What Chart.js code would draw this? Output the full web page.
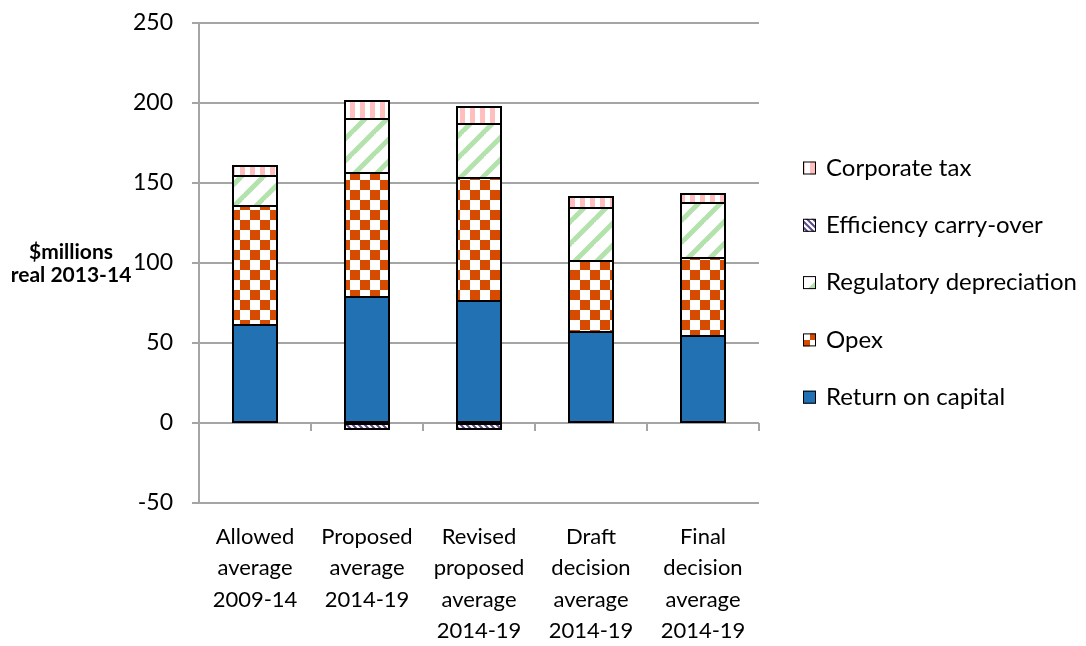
<!DOCTYPE html>
<html>
<head>
<meta charset="utf-8">
<script src="https://cdn.jsdelivr.net/npm/chart.js@4.4.1/dist/chart.umd.min.js"></script>
<style>
  html, body { margin: 0; padding: 0; background: #ffffff; }
  #wrap { width: 1086px; height: 646px; position: relative; }
</style>
</head>
<body>
<div id="wrap"><canvas id="c" width="1086" height="646"></canvas></div>
<script>
// Building-block revenue components, $ millions (real 2013-14)
const categories = [
  ["Allowed", "average", "2009-14"],
  ["Proposed", "average", "2014-19"],
  ["Revised", "proposed", "average", "2014-19"],
  ["Draft", "decision", "average", "2014-19"],
  ["Final", "decision", "average", "2014-19"]
];
const returnOnCapital        = [61, 79, 76.5, 57, 54.5];
const opex                   = [74.5, 77, 76.5, 44.5, 48.5];
const regulatoryDepreciation = [19, 34, 34, 33, 34.5];
const efficiencyCarryOver    = [null, -3.5, -3.5, null, null];
const corporateTax           = [6, 11.5, 10.5, 6.5, 5.5];

const yTickValues = [-50, 0, 50, 100, 150, 200, 250];
const yTitleLines = ["$millions", "real 2013-14"];

const FONT = "Lato, 'Open Sans', sans-serif";
const GRID = "#a5a5a5";

const canvas = document.getElementById("c");
const ctx = canvas.getContext("2d");

// Small repeating tiles used as bar fills
function tile(w, h, draw) {
  const c = document.createElement("canvas");
  c.width = w; c.height = h;
  const t = c.getContext("2d");
  t.fillStyle = "#ffffff";
  t.fillRect(0, 0, w, h);
  draw(t, w, h);
  return ctx.createPattern(c, "repeat");
}

const checker = tile(20, 20, (t) => {
  t.fillStyle = "#d64b00";
  t.fillRect(0, 0, 10, 10);
  t.fillRect(10, 10, 10, 10);
});

const greenDiagonal = tile(22, 22, (t, s) => {
  t.strokeStyle = "#b3e2ac";
  t.lineWidth = 5;
  for (const k of [0, s, 2 * s]) {
    t.beginPath();
    t.moveTo(-1, k + 1);
    t.lineTo(k + 1, -1);
    t.stroke();
  }
});

const pinkVertical = tile(10, 10, (t) => {
  t.fillStyle = "#ffbfbf";
  t.fillRect(0, 0, 5, 10);
});

const purpleDiagonal = tile(6, 6, (t, s) => {
  t.strokeStyle = "#5b4a86";
  t.lineWidth = 2;
  for (const k of [-s, 0, s]) {
    t.beginPath();
    t.moveTo(k - 1, -1);
    t.lineTo(k + s + 1, s + 1);
    t.stroke();
  }
});

// Horizontal title of the value axis, centred on the plot area
const yTitlePlugin = {
  id: "yTitle",
  afterDraw(chart) {
    const a = chart.chartArea;
    const c = chart.ctx;
    c.save();
    c.font = "bold 21px " + FONT;
    c.fillStyle = "#000";
    c.textAlign = "center";
    c.textBaseline = "middle";
    const lh = 23;
    const mid = (a.top + a.bottom) / 2;
    yTitleLines.forEach((line, i) => {
      c.fillText(line, 71, mid + (i - (yTitleLines.length - 1) / 2) * lh + 1);
    });
    c.restore();
  }
};

// Black outlines centred on each segment's edges, so stacked segments share one line
const outlinePlugin = {
  id: "segmentOutlines",
  afterDatasetsDraw(chart) {
    const c = chart.ctx;
    c.save();
    c.strokeStyle = "#000";
    c.lineWidth = 2;
    chart.data.datasets.forEach((ds, di) => {
      const meta = chart.getDatasetMeta(di);
      meta.data.forEach((bar, i) => {
        if (ds.data[i] === null || ds.data[i] === undefined) return;
        const p = bar.getProps(["x", "y", "base", "width"], true);
        const left = Math.round(p.x - p.width / 2);
        const right = Math.round(p.x + p.width / 2);
        const top = Math.round(Math.min(p.y, p.base));
        const bottom = Math.round(Math.max(p.y, p.base));
        c.strokeRect(left, top, right - left, bottom - top);
      });
    });
    c.restore();
  }
};

// Tick marks along the zero line between categories
const zeroTicksPlugin = {
  id: "zeroTicks",
  afterDatasetsDraw(chart) {
    const x = chart.scales.x, y = chart.scales.y;
    const y0 = Math.round(y.getPixelForValue(0));
    const n = categories.length;
    const c = chart.ctx;
    c.save();
    c.strokeStyle = GRID;
    c.lineWidth = 2;
    for (let i = 1; i <= n; i++) {
      const px = Math.round(x.getPixelForValue(i - 0.5));
      c.beginPath();
      c.moveTo(px, y0);
      c.lineTo(px, y0 + 8);
      c.stroke();
    }
    c.restore();
  }
};

// Legend on the right, listed top-down in reverse stacking order
const legendPlugin = {
  id: "sideLegend",
  afterDraw(chart) {
    const a = chart.chartArea;
    const c = chart.ctx;
    const sets = chart.data.datasets.slice().reverse();
    const boxX = a.right + 44;
    const startY = a.top + 145;
    const gap = 57.3;
    c.save();
    c.font = "24px " + FONT;
    c.textBaseline = "middle";
    c.textAlign = "left";
    sets.forEach((ds, i) => {
      const cy = startY + i * gap;
      c.fillStyle = ds.backgroundColor;
      c.fillRect(boxX, cy - 6.5, 13, 13);
      c.strokeStyle = "#000";
      c.lineWidth = 1;
      c.strokeRect(boxX + 0.5, cy - 6, 12, 12);
      c.fillStyle = "#000";
      c.fillText(ds.label, boxX + 23, cy);
    });
    c.restore();
  }
};

const base = { borderWidth: 0, barPercentage: 0.385, categoryPercentage: 1.0 };

new Chart(canvas, {
  type: "bar",
  data: {
    labels: categories,
    datasets: [
      Object.assign({ label: "Return on capital", data: returnOnCapital, backgroundColor: "#2271b3" }, base),
      Object.assign({ label: "Opex", data: opex, backgroundColor: checker }, base),
      Object.assign({ label: "Regulatory depreciation", data: regulatoryDepreciation, backgroundColor: greenDiagonal }, base),
      Object.assign({ label: "Efficiency carry-over", data: efficiencyCarryOver, backgroundColor: purpleDiagonal }, base),
      Object.assign({ label: "Corporate tax", data: corporateTax, backgroundColor: pinkVertical }, base)
    ]
  },
  options: {
    responsive: false,
    animation: false,
    devicePixelRatio: 1,
    layout: { padding: { top: 23, right: 327, left: 0, bottom: 0 } },
    plugins: { legend: { display: false }, tooltip: { enabled: false } },
    scales: {
      x: {
        stacked: true,
        offset: true,
        grid: { display: false, drawTicks: false },
        border: { display: false },
        ticks: { color: "#000", font: { family: FONT, size: 22, lineHeight: 1.43 },
                 padding: 18, maxRotation: 0, autoSkip: false },
        afterFit(s) { s.height = 143; }
      },
      y: {
        stacked: true,
        min: -50, max: 250,
        afterBuildTicks(s) { s.ticks = yTickValues.map(v => ({ value: v })); },
        grid: { color: GRID, lineWidth: 2, tickLength: 7, drawTicks: true },
        border: { display: true, color: GRID, width: 2 },
        ticks: { color: "#000", font: { family: FONT, size: 23 }, padding: 19 },
        afterFit(s) { s.width = 199; s.paddingTop = 0; s.paddingBottom = 0; }
      }
    }
  },
  plugins: [yTitlePlugin, outlinePlugin, zeroTicksPlugin, legendPlugin]
});
</script>
</body>
</html>
